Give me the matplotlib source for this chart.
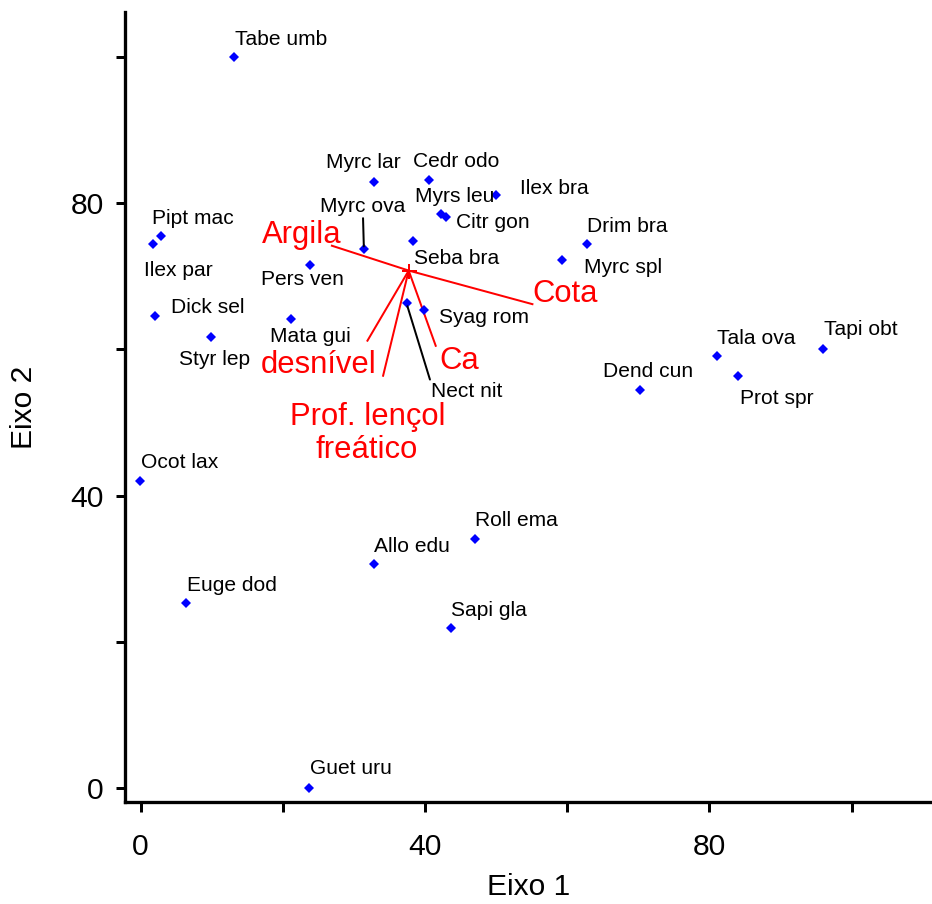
import matplotlib
matplotlib.use('Agg')
import matplotlib.pyplot as plt

plt.rcParams['font.family'] = ['Liberation Sans', 'DejaVu Sans']

# ---------------- data ----------------
species = ['Tabe umb', 'Myrc lar', 'Cedr odo', 'Ilex bra', 'Myrs leu', 'Citr gon',
           'Myrc ova', 'Seba bra', 'Pers ven', 'Mata gui', 'Nect nit', 'Syag rom',
           'Pipt mac', 'Ilex par', 'Dick sel', 'Styr lep', 'Drim bra', 'Myrc spl',
           'Tala ova', 'Prot spr', 'Tapi obt', 'Dend cun', 'Ocot lax', 'Roll ema',
           'Allo edu', 'Euge dod', 'Sapi gla', 'Guet uru']
eixo1 = [13.2, 32.8, 40.5, 50.0, 42.2, 42.9,
         31.4, 38.3, 23.8, 21.1, 37.4, 39.9,
         2.9, 1.7, 2.0, 9.9, 62.8, 59.3,
         81.0, 84.0, 96.0, 70.2, -0.1, 47.0,
         32.8, 6.4, 43.7, 23.7]
eixo2 = [100.0, 82.9, 83.2, 81.1, 78.5, 78.2,
         73.7, 74.8, 71.5, 64.1, 66.3, 65.4,
         75.5, 74.4, 64.6, 61.7, 74.5, 72.3,
         59.1, 56.4, 60.1, 54.5, 42.0, 34.1,
         30.6, 25.3, 21.8, 0.0]

env_names = ['Argila', 'Cota', 'desnível', 'Ca', 'Prof. lençol\nfreático']
env_x = [26.9, 55.1, 31.9, 41.5, 34.1]
env_y = [74.2, 66.2, 61.2, 60.5, 56.4]
env_origin = (37.7, 70.8)

tick_values = [0, 20, 40, 60, 80, 100]
tick_labels = ['0', '', '40', '', '80', '']

# ---------------- layout (offsets in px, dpi = 72) ----------------
sp_fs = 21
env_fs = 31
# (dx to left edge, dy up to text centre)
sp_offsets = {
    'Tabe umb': (0.3, 20), 'Myrc lar': (-48, 21.6), 'Cedr odo': (-15.4, 20.4),
    'Ilex bra': (24, 8.6), 'Myrs leu': (-26, 19.7), 'Citr gon': (10, -4.3),
    'Myrc ova': (-43.6, 44.7), 'Seba bra': (1.3, -15.4), 'Pers ven': (-49.3, -12.4),
    'Mata gui': (-20.7, -15), 'Nect nit': (24, -85.6), 'Syag rom': (15, -5),
    'Pipt mac': (-9.3, 19.6), 'Ilex par': (-9, -24), 'Dick sel': (16, 10.7),
    'Styr lep': (-32, -20.3), 'Drim bra': (0.3, 19.4), 'Myrc spl': (21.3, -6),
    'Tala ova': (0.7, 20), 'Prot spr': (2.4, -21), 'Tapi obt': (0.7, 21),
    'Dend cun': (-36.4, 20.4), 'Ocot lax': (0.7, 20.3), 'Roll ema': (0, 19.7),
    'Allo edu': (0.6, 19.6), 'Euge dod': (0.7, 19.7), 'Sapi gla': (0, 20.4),
    'Guet uru': (0.7, 21.3),
}
leaders = {'Myrc ova': (0.5, 0.0), 'Nect nit': (0.0, 1.0)}
# (dx, dy to baseline, ha) per env label line
env_offsets = {
    'Argila': [(10, 2.7, 'right')],
    'Cota': [(0, 2.3, 'left')],
    'desnível': [(9.4, -32.3, 'right')],
    'Ca': [(3.5, -23.6, 'left')],
    'Prof. lençol\nfreático': [(-15.5, -49, 'center'), (-16.6, -82.3, 'center')],
}

W, H = 932, 904
fig = plt.figure(figsize=(W / 72, H / 72), dpi=72)
ax = fig.add_axes([125 / W, (H - 802) / H, (W - 125) / W, 790 / H])
ax.set_xlim(-2.2, 111.3)
ax.set_ylim(-1.96, 106.2)

# species points
ax.plot(eixo1, eixo2, linestyle='none', marker='D', markersize=6.5,
        color='#0000FF', markeredgewidth=0, zorder=3)

for name, x, y in zip(species, eixo1, eixo2):
    dx, dy = sp_offsets[name]
    kw = {}
    if name in leaders:
        kw['arrowprops'] = dict(arrowstyle='-', color='black', lw=2,
                                shrinkA=0, shrinkB=3, relpos=leaders[name])
    ax.annotate(name, xy=(x, y), xytext=(dx, dy - 0.358 * sp_fs),
                textcoords='offset points', ha='left', va='baseline',
                fontsize=sp_fs, color='black', **kw)

# environmental vectors
ox, oy = env_origin
for name, ex, ey in zip(env_names, env_x, env_y):
    ax.plot([ox, ex], [oy, ey], color='#FF0000', lw=2, zorder=2)
    for line, (dx, dy, ha) in zip(name.split('\n'), env_offsets[name]):
        ax.annotate(line, xy=(ex, ey), xytext=(dx, dy), textcoords='offset points',
                    ha=ha, va='baseline', fontsize=env_fs, color='#FF0000')
ax.plot([ox], [oy], marker='+', markersize=15, markeredgewidth=2,
        color='#FF0000', zorder=2)

# axes styling
for s in ['top', 'right']:
    ax.spines[s].set_visible(False)
for s in ['left', 'bottom']:
    ax.spines[s].set_linewidth(3.3)
ax.set_xticks(tick_values)
ax.set_xticklabels(tick_labels)
ax.set_yticks(tick_values)
ax.set_yticklabels(tick_labels)
ax.tick_params(axis='x', direction='out', length=10, width=3, pad=21, labelsize=30)
ax.tick_params(axis='y', direction='out', length=9, width=3, pad=12, labelsize=30)

ax.set_xlabel('Eixo 1', fontsize=30, va='center')
ax.xaxis.set_label_coords(0.5, (802 - 887.3) / 790)
ax.set_ylabel('Eixo 2', fontsize=30, va='center')
ax.yaxis.set_label_coords((24.5 - 125) / 807, 0.5)

fig.savefig('out.png', dpi=72)
